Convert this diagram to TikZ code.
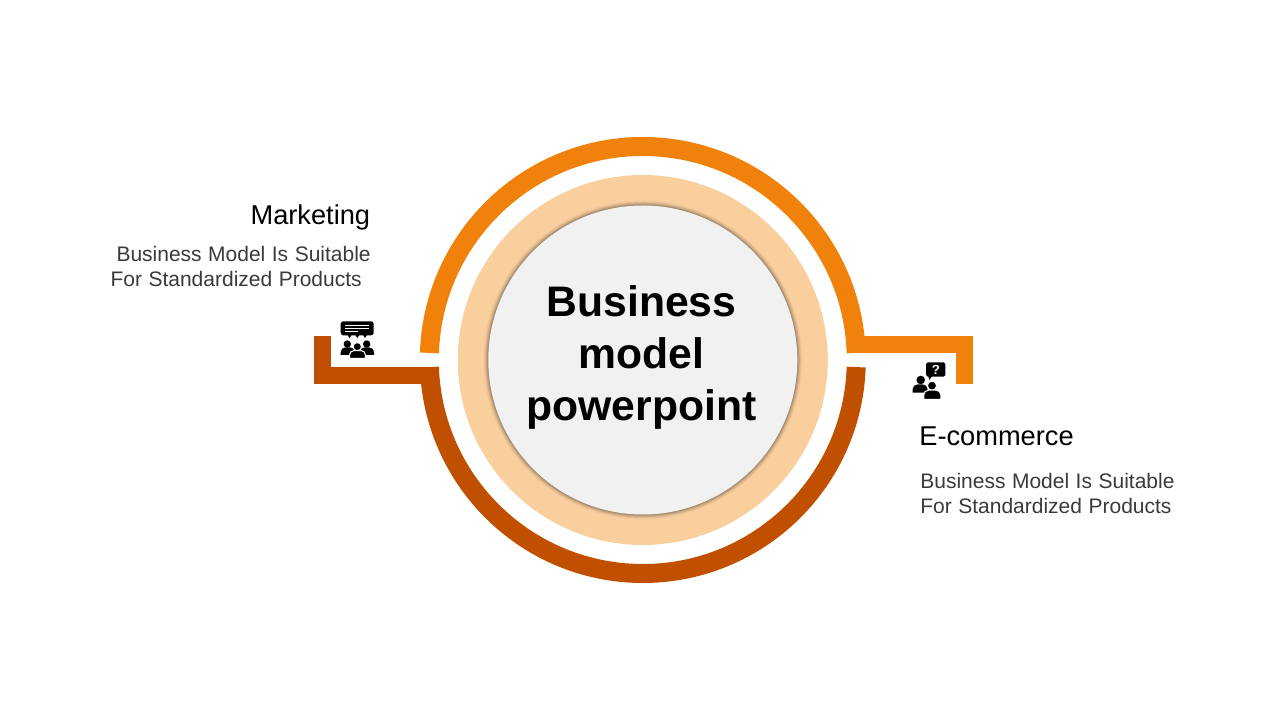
\documentclass[tikz,border=0pt]{standalone}
\usepackage{fontspec}
\setmainfont{Liberation Sans}
\usetikzlibrary{calc}
\definecolor{ringlight}{HTML}{F0820C}
\definecolor{ringdark}{HTML}{C05000}
\definecolor{ringpale}{HTML}{FACF9E}
\definecolor{corefill}{HTML}{F1F1F1}
\definecolor{edgeshade}{HTML}{806A58}
\definecolor{bodytext}{HTML}{3A3A3A}
\tikzset{
    ringband/.style={line width=0.38cm, line cap=butt},
    barband/.style={line width=0.34cm, line cap=butt, line join=miter},
    headtext/.style={font=\fontsize{15.5}{18}\selectfont, text=black, inner sep=0pt},
    smalltext/.style={font=\fontsize{11.95}{14}\selectfont, text=bodytext, inner sep=0pt,
        execute at begin node={\setlength{\spaceskip}{0.31em}}},
    icon/.style={fill=black, draw=none},
    halo/.style={fill=black, draw=white, line width=0.6pt}
}
% Thân người trong biểu tượng
\newcommand{\torso}[5][icon]{%
    \path[#1] (#2,#4) [rounded corners=2.6pt] -- (#2,#5) -- (#3,#5) [sharp corners] -- (#3,#4) -- cycle;}
\begin{document}
\begin{tikzpicture}[x=0.02cm, y=0.02cm]
    \useasboundingbox (0,0) rectangle (1280,720);

    % Vòng ngoài
    \coordinate (C) at (642.8,360);
    \draw[ringband, ringlight] ($(C)+(178.1:213.5)$) arc (178.1:1.9:213.5);
    \draw[ringband, ringdark] ($(C)+(-1.9:213.5)$) arc (-1.9:-178.1:213.5);

    % Thanh nối
    \coordinate (RA) at (848,375.5);
    \coordinate (RB) at (964.5,375.5);
    \coordinate (RC) at (964.5,336);
    \coordinate (LA) at (439,344.5);
    \coordinate (LB) at (322.5,344.5);
    \coordinate (LC) at (322.5,384);
    \draw[barband, ringlight] (RA) -- (RB) -- (RC);
    \draw[barband, ringdark] (LA) -- (LB) -- (LC);

    % Vòng trong
    \fill[ringpale] (C) circle (185);
    \foreach \rad/\op in {159.5/0.06, 158.5/0.1, 157.5/0.16, 156.5/0.25, 155.5/0.35}
        \fill[edgeshade, opacity=\op] (C) circle (\rad);
    \fill[corefill] (C) circle (154.5);

    % Chữ giữa
    \node[font=\fontsize{24.3}{29.5}\selectfont\bfseries, align=center, text=black, inner sep=0pt]
        (title) at (641.5,362.5) {Business\\model\\powerpoint};

    % Bên trái
    \node[headtext, anchor=base east] (market) at (370.5,495) {Marketing};
    \node[smalltext, anchor=base east] (marktxta) at (371,458) {Business Model Is Suitable};
    \node[smalltext, anchor=base east] (marktxtb) at (362,433) {For Standardized Products};

    % Bên phải
    \node[headtext, anchor=base west] (ecom) at (919,274.5) {E-commerce};
    \node[smalltext, anchor=base west] (ecomtxta) at (920,231) {Business Model Is Suitable};
    \node[smalltext, anchor=base west] (ecomtxtb) at (920,206) {For Standardized Products};

    % Biểu tượng trái
    \fill[icon, rounded corners=1.5pt] (340.7,398.7) rectangle (373.7,384.7);
    \foreach \tx in {349.5,357.3,365}
        \fill[icon] (\tx-2,385) -- (\tx+2,385) -- (\tx,382) -- cycle;
    \draw[white, line width=0.5pt] (345,394.3) -- (369,394.3);
    \draw[white, line width=0.5pt] (345,391.7) -- (369,391.7);
    \draw[white, line width=0.5pt] (345,389) -- (358,389);
    \foreach \hx/\hy in {347.3/376, 366.7/376}
        \fill[icon] (\hx,\hy) circle (3.7);
    \torso{340.7}{355}{365}{372.5}
    \torso{359.7}{374}{365}{372.5}
    \fill[halo] (357.3,373.3) circle (4.2);
    \torso[halo]{349.5}{365.5}{361.5}{369.5}

    % Biểu tượng phải
    \fill[icon, rounded corners=1pt] (926,357.7) rectangle (945.3,343.3);
    \fill[icon] (928,345) -- (933,345) -- (929.3,340) -- cycle;
    \node[font=\fontsize{7.5}{9}\selectfont\bfseries, text=white, inner sep=0pt] (ask) at (935.8,350.5) {?};
    \fill[icon] (920.7,340) circle (4.3);
    \torso{912.7}{927.5}{327.3}{335.5}
    \fill[halo] (932,334.3) circle (4.6);
    \torso[halo]{923.8}{940.8}{320.7}{329.8}
\end{tikzpicture}
\end{document}
